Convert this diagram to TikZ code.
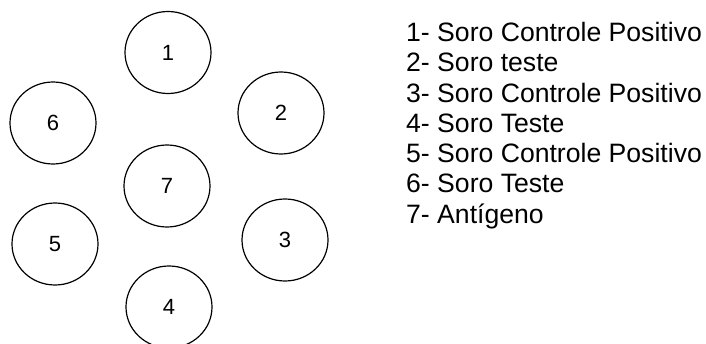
\documentclass[tikz,border=0pt]{standalone}
\usepackage{fontspec}
\setmainfont{Liberation Sans}
\usetikzlibrary{shapes.geometric}
\begin{document}
\begin{tikzpicture}[x=1pt,y=-1pt,
  well/.style={ellipse,draw=black,line width=1.2pt,minimum width=86pt,minimum height=82pt,inner sep=0pt,font=\fontsize{22}{24}\selectfont},
  legend/.style={anchor=base west,inner sep=0pt,font=\fontsize{26.6}{30}\selectfont}]
\useasboundingbox (0,0) rectangle (706,344);
\node[well] (w1) at (168,52.5) {1};
\node[well] (w2) at (281,113) {2};
\node[well] (w6) at (53,123) {6};
\node[well] (w7) at (167,186) {7};
\node[well] (w5) at (55,244) {5};
\node[well] (w3) at (285,240) {3};
\node[well] (w4) at (169,307) {4};
\node[legend] (l1) at (406,41.5) {1- Soro Controle Positivo};
\node[legend] (l2) at (406,71.8) {2- Soro teste};
\node[legend] (l3) at (406,102.1) {3- Soro Controle Positivo};
\node[legend] (l4) at (406,132.4) {4- Soro Teste};
\node[legend] (l5) at (406,162.7) {5- Soro Controle Positivo};
\node[legend] (l6) at (406,193) {6- Soro Teste};
\node[legend] (l7) at (406,223.3) {7- Antígeno};
\end{tikzpicture}
\end{document}
